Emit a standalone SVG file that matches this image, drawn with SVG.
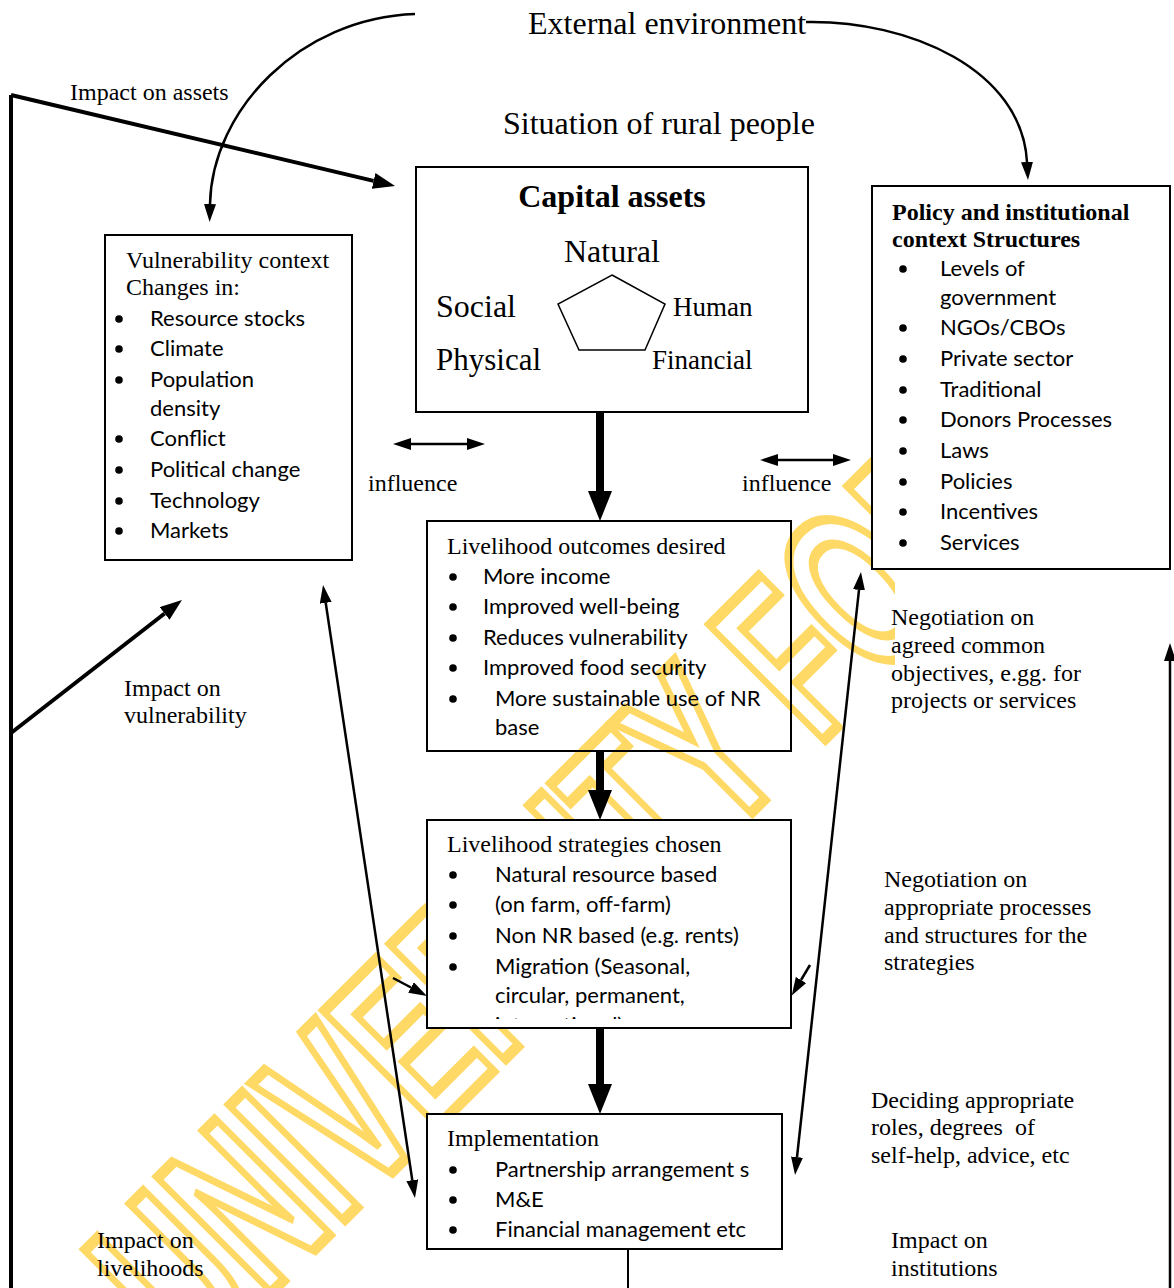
<svg xmlns="http://www.w3.org/2000/svg" width="1174" height="1288" viewBox="0 0 1174 1288">
  <defs>
    <marker id="head-lg" markerUnits="userSpaceOnUse" markerWidth="30" markerHeight="24" refX="0" refY="12" orient="auto">
      <path d="M0,0 L30,12 L0,24 Z" fill="#000"/>
    </marker>
    <marker id="head-md" markerUnits="userSpaceOnUse" markerWidth="22" markerHeight="16" refX="0" refY="8" orient="auto">
      <path d="M0,0 L22,8 L0,16 Z" fill="#000"/>
    </marker>
    <marker id="head-sm" markerUnits="userSpaceOnUse" markerWidth="18" markerHeight="12" refX="0" refY="6" orient="auto-start-reverse">
      <path d="M0,0 L18,6 L0,12 Z" fill="#000"/>
    </marker>
    <clipPath id="clip-strat"><rect x="427" y="820" width="364" height="199"/></clipPath>
    <clipPath id="clip-impl"><rect x="427" y="1114" width="355" height="132"/></clipPath>
    <clipPath id="clip-wm"><rect x="0" y="0" width="895" height="1288"/></clipPath>
  </defs>
  <style>
    .serif{font-family:"Liberation Serif","Times New Roman",serif;font-size:24px;fill:#000}
    .big{font-size:32px}
    .mid{font-size:27px}
    .bold{font-weight:bold}
    .sans{font-family:Lato,"Liberation Sans",sans-serif;font-size:22px;fill:#000}
    .box{fill:#fff;stroke:#000;stroke-width:2}
    .open{fill:none;stroke:#000;stroke-width:2}
    .bullet{fill:#000}
    .thick{stroke:#000;stroke-width:8;fill:none}
    .med{stroke:#000;stroke-width:4;fill:none}
    .thin{stroke:#000;stroke-width:2.5;fill:none}
    .wm{font-family:"Liberation Sans",Arial,sans-serif;font-weight:bold;font-size:235px;fill:none;stroke:#ffd966;stroke-width:9}
  </style>

  <rect width="1174" height="1288" fill="#fff"/>

  <!-- background watermark -->
  <g id="watermark" clip-path="url(#clip-wm)">
    <text class="wm" transform="translate(193,1371) rotate(-45) scale(0.6,1)" vector-effect="non-scaling-stroke">UNIVERSITY FOR DEVELOPMENT STUDIES</text>
  </g>

  <!-- headings -->
  <text class="serif big" x="528" y="34">External environment</text>
  <text class="serif big" x="503" y="134">Situation of rural people</text>

  <!-- nodes -->
  <g id="vulnerability">
    <rect class="box" x="105" y="235" width="247" height="325"/>
    <text class="serif" x="126" y="268">Vulnerability context</text>
    <text class="serif" x="126" y="295">Changes in:</text>
    <g class="bullet">
      <circle cx="119" cy="319" r="3.8"/><circle cx="119" cy="349" r="3.8"/><circle cx="119" cy="380" r="3.8"/>
      <circle cx="119" cy="439" r="3.8"/><circle cx="119" cy="470" r="3.8"/><circle cx="119" cy="501" r="3.8"/>
      <circle cx="119" cy="531" r="3.8"/>
    </g>
    <text class="sans" x="150" y="326">Resource stocks</text>
    <text class="sans" x="150" y="356">Climate</text>
    <text class="sans" x="150" y="387">Population</text>
    <text class="sans" x="150" y="416">density</text>
    <text class="sans" x="150" y="446">Conflict</text>
    <text class="sans" x="150" y="477">Political change</text>
    <text class="sans" x="150" y="508">Technology</text>
    <text class="sans" x="150" y="538">Markets</text>
  </g>

  <g id="capital-assets">
    <rect class="box" x="416" y="167" width="392" height="245"/>
    <text class="serif big bold" x="612" y="207" text-anchor="middle">Capital assets</text>
    <text class="serif big" x="564" y="262">Natural</text>
    <polygon points="612,275 665,304 645,350 579,350 558,304" fill="none" stroke="#000" stroke-width="1.5"/>
    <text class="serif big" x="436" y="317">Social</text>
    <text class="serif mid" x="673" y="316">Human</text>
    <text class="serif" style="font-size:31px" x="436" y="370">Physical</text>
    <text class="serif mid" x="652" y="369">Financial</text>
  </g>

  <g id="policy">
    <rect class="box" x="872" y="186" width="298" height="383"/>
    <text class="serif bold" x="892" y="220">Policy and institutional</text>
    <text class="serif bold" x="892" y="247">context Structures</text>
    <g class="bullet">
      <circle cx="903" cy="269" r="3.8"/><circle cx="903" cy="328" r="3.8"/><circle cx="903" cy="359" r="3.8"/>
      <circle cx="903" cy="390" r="3.8"/><circle cx="903" cy="420" r="3.8"/><circle cx="903" cy="451" r="3.8"/>
      <circle cx="903" cy="482" r="3.8"/><circle cx="903" cy="512" r="3.8"/><circle cx="903" cy="543" r="3.8"/>
    </g>
    <text class="sans" x="940" y="276">Levels of</text>
    <text class="sans" x="940" y="305">government</text>
    <text class="sans" x="940" y="335">NGOs/CBOs</text>
    <text class="sans" x="940" y="366">Private sector</text>
    <text class="sans" x="940" y="397">Traditional</text>
    <text class="sans" x="940" y="427">Donors Processes</text>
    <text class="sans" x="940" y="458">Laws</text>
    <text class="sans" x="940" y="489">Policies</text>
    <text class="sans" x="940" y="519">Incentives</text>
    <text class="sans" x="940" y="550">Services</text>
  </g>

  <g id="outcomes">
    <rect class="open" x="427" y="521" width="364" height="230"/>
    <text class="serif" x="447" y="554">Livelihood outcomes desired</text>
    <g class="bullet">
      <circle cx="453" cy="577" r="3.8"/><circle cx="453" cy="607" r="3.8"/><circle cx="453" cy="638" r="3.8"/>
      <circle cx="453" cy="668" r="3.8"/><circle cx="453" cy="699" r="3.8"/>
    </g>
    <text class="sans" x="483" y="584">More income</text>
    <text class="sans" x="483" y="614">Improved well-being</text>
    <text class="sans" x="483" y="645">Reduces vulnerability</text>
    <text class="sans" x="483" y="675">Improved food security</text>
    <text class="sans" x="495" y="706">More sustainable use of NR</text>
    <text class="sans" x="495" y="735">base</text>
  </g>

  <g id="strategies">
    <rect class="box" x="427" y="820" width="364" height="208"/>
    <text class="serif" x="447" y="852">Livelihood strategies chosen</text>
    <g class="bullet">
      <circle cx="453" cy="875" r="3.8"/><circle cx="453" cy="905" r="3.8"/><circle cx="453" cy="936" r="3.8"/>
      <circle cx="453" cy="967" r="3.8"/>
    </g>
    <g clip-path="url(#clip-strat)">
      <text class="sans" x="495" y="882">Natural resource based</text>
      <text class="sans" x="495" y="912">(on farm, off-farm)</text>
      <text class="sans" x="495" y="943">Non NR based (e.g. rents)</text>
      <text class="sans" x="495" y="974">Migration (Seasonal,</text>
      <text class="sans" x="495" y="1003">circular, permanent,</text>
      <text class="sans" x="495" y="1033">international)</text>
    </g>
  </g>

  <g id="implementation">
    <rect class="box" x="427" y="1114" width="355" height="135"/>
    <text class="serif" x="447" y="1146">Implementation</text>
    <g class="bullet">
      <circle cx="453" cy="1170" r="3.8"/><circle cx="453" cy="1200" r="3.8"/><circle cx="453" cy="1230" r="3.8"/>
    </g>
    <g clip-path="url(#clip-impl)">
      <text class="sans" x="495" y="1177">Partnership arrangement s</text>
      <text class="sans" x="495" y="1207">M&amp;E</text>
      <text class="sans" x="495" y="1237">Financial management etc</text>
    </g>
  </g>

  <!-- connectors -->
  <g id="connectors">
    <path class="thin" d="M415,14 C300,18 212,110 210,204" marker-end="url(#head-sm)"/>
    <path class="thin" d="M806,22 C910,20 1022,70 1027,162" marker-end="url(#head-sm)"/>
    <line class="med" x1="11" y1="95" x2="11" y2="1288"/>
    <line class="med" x1="11" y1="95" x2="373.6" y2="180.9" marker-end="url(#head-md)"/>
    <line class="med" x1="11" y1="733" x2="164.6" y2="613.5" marker-end="url(#head-md)"/>
    <line class="thick" x1="600" y1="412" x2="600" y2="491" marker-end="url(#head-lg)"/>
    <line class="thick" x1="600" y1="751" x2="600" y2="790" marker-end="url(#head-lg)"/>
    <line class="thick" x1="600" y1="1028" x2="600" y2="1084" marker-end="url(#head-lg)"/>
    <line class="thin" x1="411" y1="444" x2="467" y2="444" marker-start="url(#head-sm)" marker-end="url(#head-sm)"/>
    <line class="thin" x1="778" y1="460" x2="833" y2="460" marker-start="url(#head-sm)" marker-end="url(#head-sm)"/>
    <line class="thin" x1="325.7" y1="602.8" x2="412.3" y2="1180.2" marker-start="url(#head-sm)" marker-end="url(#head-sm)"/>
    <line class="thin" x1="859" y1="589.9" x2="797" y2="1157.1" marker-start="url(#head-sm)" marker-end="url(#head-sm)"/>
    <line class="thin" x1="393" y1="978" x2="411" y2="987.5" marker-end="url(#head-sm)"/>
    <line class="thin" x1="810" y1="965" x2="801" y2="980" marker-end="url(#head-sm)"/>
    <line class="thin" x1="1170" y1="1288" x2="1170" y2="661" marker-end="url(#head-sm)"/>
    <line stroke="#000" stroke-width="2" x1="628" y1="1249" x2="628" y2="1288"/>
  </g>

  <!-- connector labels -->
  <text class="serif" x="70" y="100">Impact on assets</text>
  <text class="serif" x="368" y="491">influence</text>
  <text class="serif" x="742" y="491">influence</text>
  <text class="serif" x="124" y="696">Impact on</text>
  <text class="serif" x="124" y="723">vulnerability</text>
  <text class="serif" x="891" y="625">Negotiation on</text>
  <text class="serif" x="891" y="653">agreed common</text>
  <text class="serif" x="891" y="681">objectives, e.gg. for</text>
  <text class="serif" x="891" y="708">projects or services</text>
  <text class="serif" x="884" y="887">Negotiation on</text>
  <text class="serif" x="884" y="915">appropriate processes</text>
  <text class="serif" x="884" y="943">and structures for the</text>
  <text class="serif" x="884" y="970">strategies</text>
  <text class="serif" x="871" y="1108">Deciding appropriate</text>
  <text class="serif" x="871" y="1135" style="white-space:pre">roles, degrees  of</text>
  <text class="serif" x="871" y="1163">self-help, advice, etc</text>
  <text class="serif" x="97" y="1248">Impact on</text>
  <text class="serif" x="97" y="1276">livelihoods</text>
  <text class="serif" x="891" y="1248">Impact on</text>
  <text class="serif" x="891" y="1276">institutions</text>
</svg>
